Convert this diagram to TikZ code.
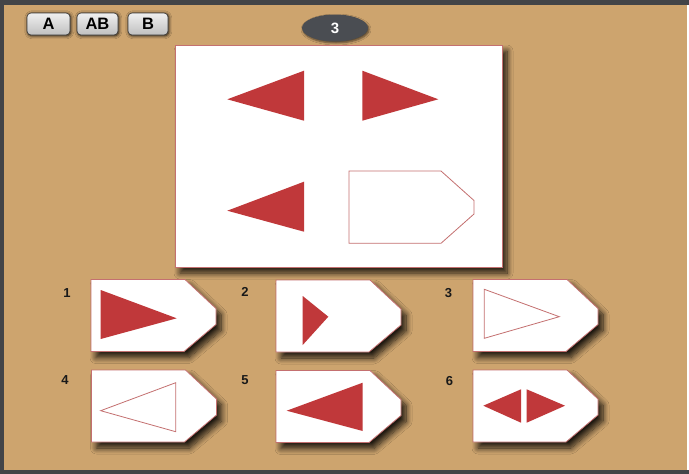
\documentclass[tikz,border=0pt]{standalone}
\usepackage{fontspec}
\setmainfont{Liberation Sans}
\usetikzlibrary{shadows.blur,shapes.geometric}
\definecolor{tanbg}{RGB}{205,164,110}
\definecolor{tri}{RGB}{192,56,58}
\definecolor{cardline}{RGB}{196,112,112}
\definecolor{ovalc}{RGB}{74,77,82}
\definecolor{framec}{RGB}{66,68,72}
\tikzset{
  softshadow/.style={blur shadow={shadow xshift=5pt, shadow yshift=-6pt, shadow blur steps=10, shadow blur radius=6pt, shadow opacity=85}},
  cardshape/.style={fill=white, draw=cardline, line width=0.8pt, softshadow},
  trifill/.style={fill=tri},
  trioutline/.style={draw=cardline, line width=0.8pt},
  btn/.style={rounded corners=4pt, top color=gray!12, bottom color=gray!50, draw=gray!45!black, line width=0.6pt,
    blur shadow={shadow xshift=0.8pt, shadow yshift=-0.8pt, shadow blur steps=6, shadow blur radius=3pt, shadow opacity=90},
    minimum height=22pt, inner sep=0pt, font=\bfseries\fontsize{16.5}{16.5}\selectfont, text=black},
  digit/.style={font=\bfseries\fontsize{13}{13}\selectfont, text=black!90, inner sep=0pt},
  card/.pic={\path[cardshape] (0,0) -- (94,0) -- (125,29) -- (125,45) -- (93,72) -- (0,72) -- cycle;}
}
\begin{document}
\begin{tikzpicture}[x=1pt,y=-1pt]
\useasboundingbox (0,0) rectangle (689,474);
% background and frame
\fill[tanbg] (0,0) rectangle (689,474);
\fill[framec] (0,0) rectangle (689,5);
\fill[framec] (0,0) rectangle (4,474);
\fill[framec] (0,470) rectangle (689,474);
\fill[white] (687,5) rectangle (689,470);
% buttons
\node[btn, minimum width=43pt] (bA) at (48.5,24) {A};
\node[btn, minimum width=41pt] (bAB) at (97.5,24) {AB};
\node[btn, minimum width=40pt] (bB) at (148,24) {B};
% oval
\node[ellipse, fill=ovalc, minimum width=66pt, minimum height=27pt, inner sep=0pt,
  blur shadow={shadow xshift=1pt, shadow yshift=-1.5pt, shadow blur steps=5, shadow blur radius=2pt, shadow opacity=60},
  text=white, font=\bfseries\fontsize{15}{15}\selectfont] (num) at (335,28) {3};
% main panel
\path[cardshape] (175,45) rectangle (502,267);
\fill[trifill] (227.3,99.3) -- (304,70.7) -- (304,120.7) -- cycle;
\fill[trifill] (362.3,70.7) -- (438.3,99.3) -- (362.3,120.7) -- cycle;
\fill[trifill] (227.3,210.7) -- (304,181.7) -- (304,231.7) -- cycle;
\draw[cardline, line width=0.8pt] (349,171) -- (441,171) -- (474,200.5) -- (474,214) -- (441,243.3) -- (349,243.3) -- cycle;
% answer cards
\pic (c1) at (91,279.5) {card};
\pic (c2) at (276,280) {card};
\pic (c3) at (473,279.5) {card};
\pic (c4) at (91.5,370) {card};
\pic (c5) at (276,370.5) {card};
\pic (c6) at (473,370) {card};
% labels
\node[digit] (l1) at (67,293) {1};
\node[digit] (l2) at (245,292) {2};
\node[digit] (l3) at (448.5,293) {3};
\node[digit] (l4) at (65,380) {4};
\node[digit] (l5) at (245,380) {5};
\node[digit] (l6) at (449.5,381) {6};
% card contents
\fill[trifill] (100.7,290) -- (176.7,318.3) -- (100.7,339) -- cycle;
\fill[trifill] (302.7,296) -- (328.3,316.7) -- (302.7,345) -- cycle;
\draw[trioutline] (484.3,289.3) -- (559.3,316.7) -- (484.3,338.3) -- cycle;
\draw[trioutline] (100.7,410.7) -- (175.7,382.7) -- (175.7,431.7) -- cycle;
\fill[trifill] (286.7,410.7) -- (362.7,382.7) -- (362.7,431) -- cycle;
\fill[trifill] (483.3,405.7) -- (521,389.3) -- (521,422.7) -- cycle;
\fill[trifill] (526.7,389.3) -- (565,405.7) -- (526.7,422.7) -- cycle;
\end{tikzpicture}
\end{document}
